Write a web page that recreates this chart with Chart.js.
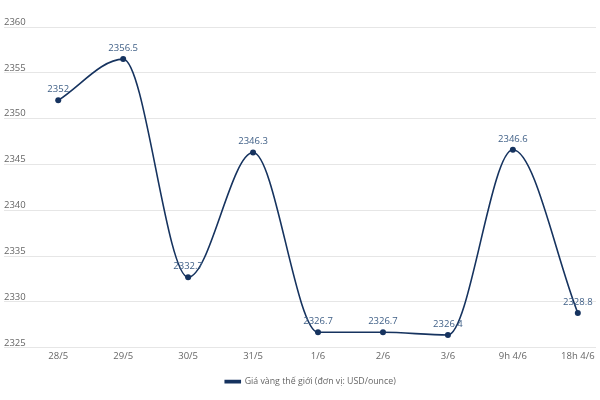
<!DOCTYPE html>
<html>
<head>
<meta charset="utf-8">
<script src="https://cdn.jsdelivr.net/npm/chart.js@4"></script>
<style>
  html, body { margin: 0; padding: 0; background: #fff; }
  #wrap { width: 600px; height: 400px; }
</style>
</head>
<body>
<div id="wrap"><canvas id="goldChart"></canvas></div>
<script>
const labels = ['28/5', '29/5', '30/5', '31/5', '1/6', '2/6', '3/6', '9h 4/6', '18h 4/6'];
const prices = [2352, 2356.5, 2332.7, 2346.3, 2326.7, 2326.7, 2326.4, 2346.6, 2328.8];
const yTicks = [2325, 2330, 2335, 2340, 2345, 2350, 2355, 2360];
const seriesName = 'Giá vàng thế giới (đơn vị: USD/ounce)';

const navy = '#16335f';
const font = "'Open Sans', sans-serif";

// value labels above each point
const pointLabels = {
  id: 'pointLabels',
  afterDatasetsDraw(chart) {
    const ctx = chart.ctx;
    const meta = chart.getDatasetMeta(0);
    ctx.save();
    ctx.font = `9.5px ${font}`;
    ctx.fillStyle = '#3f5f86';
    ctx.textAlign = 'center';
    ctx.textBaseline = 'middle';
    meta.data.forEach((pt, i) => {
      ctx.fillText(String(prices[i]), pt.x, pt.y - 11);
    });
    ctx.restore();
  }
};

// nudge the legend a little to the right, like the original
const legendShift = {
  id: 'legendShift',
  afterLayout(chart) {
    if (chart.legend) {
      chart.legend.left += 9;
      chart.legend.right += 9;
    }
  }
};

const ctx = document.getElementById('goldChart').getContext('2d');
new Chart(ctx, {
  type: 'line',
  data: {
    datasets: [{
      label: seriesName,
      data: prices.map((v, i) => ({ x: i, y: v })),
      borderColor: navy,
      backgroundColor: navy,
      borderWidth: 1.6,
      pointRadius: 3,
      pointBackgroundColor: navy,
      pointBorderWidth: 0,
      cubicInterpolationMode: 'monotone',
      fill: false
    }]
  },
  options: {
    responsive: true,
    maintainAspectRatio: false,
    animation: false,
    layout: { padding: { left: 3, right: 0, top: 27, bottom: 4 } },
    scales: {
      x: {
        type: 'linear',
        min: -0.835,
        max: 8.28,
        grid: { display: false, drawTicks: false },
        border: { display: false },
        afterBuildTicks: s => { s.ticks = labels.map((_, i) => ({ value: i })); },
        ticks: {
          padding: 3,
          color: '#666',
          font: { family: font, size: 9.5 },
          autoSkip: false,
          maxRotation: 0,
          callback: v => labels[v]
        }
      },
      y: {
        min: 2325,
        max: 2360,
        afterBuildTicks: s => { s.ticks = yTicks.map(v => ({ value: v })); },
        grid: { color: '#e6e6e6', drawTicks: false },
        border: { display: false },
        ticks: {
          mirror: true,
          padding: 0,
          labelOffset: -5,
          color: '#666',
          font: { family: font, size: 9.5 },
          callback: v => String(v)
        }
      }
    },
    plugins: {
      legend: {
        position: 'bottom',
        labels: {
          color: '#666',
          font: { family: font, size: 8.8 },
          boxWidth: 15,
          boxHeight: 2,
          padding: 12
        }
      },
      tooltip: { enabled: false }
    }
  },
  plugins: [pointLabels, legendShift]
});
</script>
</body>
</html>
